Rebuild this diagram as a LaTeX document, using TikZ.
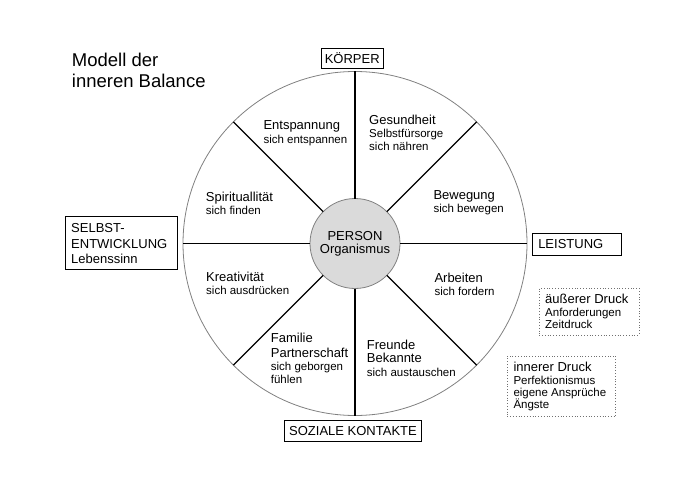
\documentclass[tikz,border=0pt]{standalone}
\usepackage{fontspec}
\setmainfont{Liberation Sans}
\definecolor{rimgray}{HTML}{808080}
\definecolor{hubfill}{HTML}{DADADA}
\definecolor{dotgray}{HTML}{707070}
\newcommand{\hd}[1]{{\fontsize{13}{14.5}\selectfont #1}}
\newcommand{\lines}[1]{\begin{tabular}[t]{@{}l@{}}#1\end{tabular}}
\begin{document}
\begin{tikzpicture}[x=1pt,y=-1pt,
  seg/.style={anchor=base west, inner sep=0pt, font=\fontsize{11.5}{13}\selectfont},
  boxtext/.style={anchor=base west, inner sep=0pt, font=\fontsize{13}{15.3}\selectfont},
  frame/.style={draw=black, line width=0.9pt, inner sep=0pt},
  lbl/.style={draw=black, line width=0.9pt, font=\fontsize{13}{15}\selectfont, inner ysep=0pt},
  spoke/.style={line width=1.4pt, black},
  dframe/.style={draw=dotgray, dotted, line width=0.8pt, inner sep=0pt}]
\useasboundingbox (0,0) rectangle (700,476);

% title
\node[anchor=base west, inner sep=0pt, font=\fontsize{18.5}{21.3}\selectfont] (title) at (71.7,66.7) {\lines{Modell der\\inneren Balance}};

% wheel
\node[circle, draw=rimgray, line width=0.8pt, minimum size=344pt, inner sep=0pt, outer sep=0pt] (o) at (355,243.5) {};
\node[circle, draw=rimgray, fill=hubfill, line width=0.8pt, minimum size=90pt, inner sep=0pt, outer sep=0pt, align=center, font=\fontsize{13}{13.3}\selectfont] (c) at (355,243.5) {PERSON\\Organismus};
\foreach \a in {0,45,...,315} {
  \draw[spoke] (c.\a) -- (o.\a);
}

% segment texts
\node[seg] (t1) at (263.3,129.3) {\lines{\hd{Entspannung}\\[1pt]sich entspannen}};
\node[seg] (t2) at (369,124.3) {\lines{\hd{Gesundheit}\\[0.4pt]Selbstfürsorge\\sich nähren}};
\node[seg] (t3) at (205.7,201.7) {\lines{\hd{Spirituallität}\\sich finden}};
\node[seg] (t4) at (433.3,199.3) {\lines{\hd{Bewegung}\\sich bewegen}};
\node[seg] (t5) at (206,281) {\lines{\hd{Kreativität}\\sich ausdrücken}};
\node[seg] (t6) at (434.3,282.7) {\lines{\hd{Arbeiten}\\sich fordern}};
\node[seg] (t7) at (270.7,342.3) {\lines{\hd{Familie}\\[1.4pt]\hd{Partnerschaft}\\[0.3pt]sich geborgen\\fühlen}};
\node[seg] (t8) at (366.7,349) {\lines{\hd{Freunde}\\[0.3pt]\hd{Bekannte}\\[0.7pt]sich austauschen}};

% labelled boxes
\node[lbl, minimum width=59pt, minimum height=20pt] (koerper) at (352.2,58.3) {KÖRPER};
\node[lbl, minimum width=137.4pt, minimum height=21.7pt] (sozial) at (353,430.8) {SOZIALE KONTAKTE};
\node[lbl, minimum height=22.4pt, text width=77.1pt, inner xsep=5.6pt, align=left] (leistung) at (576.8,244.5) {LEISTUNG};
\node[frame, minimum width=111.6pt, minimum height=53.3pt] (selbst) at (121.5,242.6) {};
\node[boxtext] (selbsttext) at (71,232.7) {\lines{SELBST-\\ENTWICKLUNG\\Lebenssinn}};

% dotted boxes
\node[dframe, minimum width=99.7pt, minimum height=46.7pt] (aussen) at (589.1,311.6) {};
\node[seg] (aussentext) at (545,303.3) {\lines{\hd{äußerer Druck}\\[0.4pt]Anforderungen\\[-1.4pt]Zeitdruck}};
\node[dframe, minimum width=108.4pt, minimum height=60.7pt] (innen) at (561.5,386.3) {};
\node[seg] (innentext) at (513.3,371.7) {\lines{\hd{innerer Druck}\\[-0.4pt]Perfektionismus\\[-1.3pt]eigene Ansprüche\\[-0.7pt]Ängste}};
\end{tikzpicture}
\end{document}
